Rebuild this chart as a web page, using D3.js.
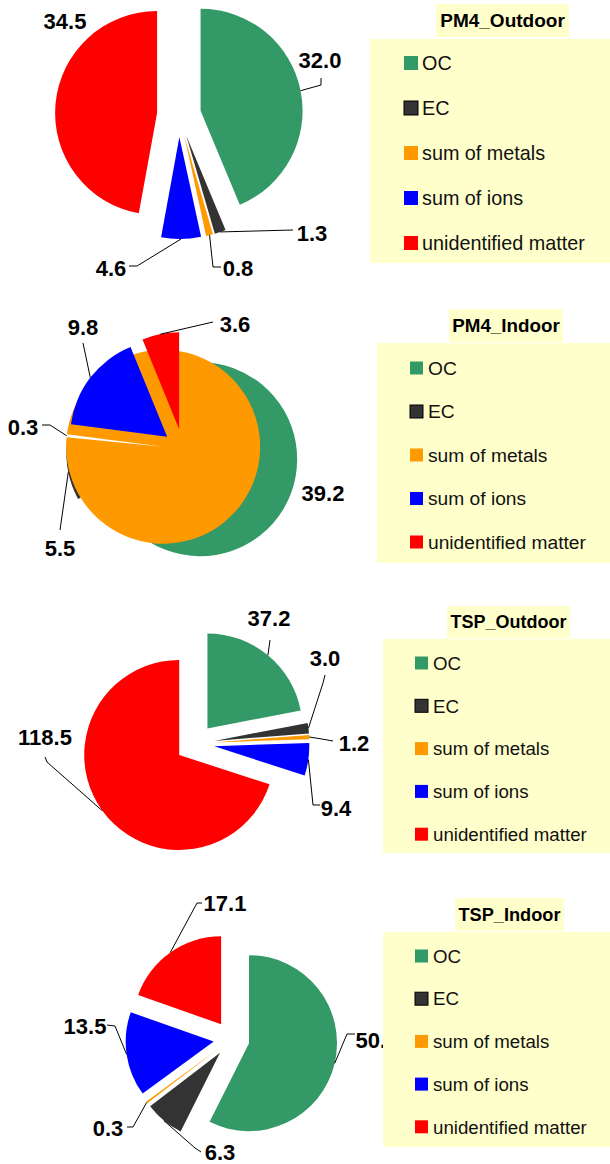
<!DOCTYPE html>
<html>
<head>
<meta charset="utf-8">
<script src="https://cdn.jsdelivr.net/npm/d3@7"></script>
<style>
  body { margin: 0; background: #fff; }
  svg { display: block; font-family: "Liberation Sans", Arial, sans-serif; }
</style>
</head>
<body>
<div id="chart"></div>
<script>
// categories and colours shared by all four pies
var categories = ["OC", "EC", "sum of metals", "sum of ions", "unidentified matter"];
var sliceColors = ["#339966", "#333333", "#FF9900", "#0000FF", "#FF0000"];

var chartTitles = ["PM4_Outdoor", "PM4_Indoor", "TSP_Outdoor", "TSP_Indoor"];

// values in the same order as categories
var pm4Outdoor = [32.0, 1.3, 0.8, 4.6, 34.5];
var pm4Indoor = [39.2, 5.5, 0.3, 9.8, 3.6];
var tspOutdoor = [37.2, 3.0, 1.2, 9.4, 118.5];
var tspIndoor = [50.1, 6.3, 0.3, 13.5, 17.1];

var seriesList = [pm4Outdoor, pm4Indoor, tspOutdoor, tspIndoor];

// layout of each panel (label spots + elbow points of leader lines)
var layouts = [
    {
        cx: 179, cy: 115, r: 102, explode: 22,
        labels: [
            { x: 320, y: 60, pts: [[321, 78], [321, 85]] },
            { x: 312, y: 233, pts: [[293, 230]] },
            { x: 238, y: 268, pts: [[221, 267], [213, 267]] },
            { x: 111, y: 268, pts: [[129, 266], [137, 266]] },
            { x: 65, y: 21, pts: null }
        ],
        title: { x: 436, y: 4, w: 133, h: 33, fs: 19 },
        legend: { x: 370, y: 39, h: 224, y0: 63, dy: 45, sqx: 404, sq: 14, tx: 422, fs: 19.8 }
    },
    {
        cx: 183, cy: 449, r: 97, explode: 20, flipped: 2,
        labels: [
            { x: 323, y: 493, pts: null },
            { x: 60, y: 548, pts: [[60, 530]] },
            { x: 23, y: 427, pts: [[42, 425], [50, 425]] },
            { x: 83, y: 327, pts: [[83, 343]] },
            { x: 235, y: 324, pts: [[213, 322]] }
        ],
        title: { x: 449, y: 309, w: 114, h: 33, fs: 18.8 },
        legend: { x: 377, y: 343, h: 220, y0: 368, dy: 43.5, sqx: 410, sq: 13, tx: 428, fs: 19.2 }
    },
    {
        cx: 195, cy: 743.5, r: 95, explode: 19.5,
        labels: [
            { x: 269, y: 618, pts: [[270, 640]] },
            { x: 325, y: 658, pts: [[325, 675], [323, 683]] },
            { x: 354, y: 743, pts: [[333, 741], [322, 739]] },
            { x: 336, y: 808, pts: [[320, 805], [313, 805]] },
            { x: 45, y: 737, pts: [[45, 757], [47, 762]] }
        ],
        title: { x: 447, y: 606, w: 123, h: 32, fs: 18 },
        legend: { x: 383, y: 639, h: 214, y0: 663, dy: 42.8, sqx: 415, sq: 13, tx: 433, fs: 18.7 }
    },
    {
        cx: 231.5, cy: 1039, r: 88, explode: 18,
        labels: [
            { x: 377, y: 1040, pts: [[355, 1034], [347, 1034]] },
            { x: 220, y: 1152, pts: [[201, 1152], [195, 1148]] },
            { x: 108, y: 1128, pts: [[127, 1127], [133, 1127]] },
            { x: 85, y: 1026, pts: [[107, 1025], [115, 1026]] },
            { x: 225, y: 903, pts: [[202, 903], [197, 903]] }
        ],
        title: { x: 455, y: 898, w: 109, h: 33, fs: 18.2 },
        legend: { x: 383, y: 932, h: 215, y0: 956, dy: 42.7, sqx: 415, sq: 13, tx: 433, fs: 18.7 }
    }
];

var W = 610, H = 1164;
var svg = d3.select("#chart").append("svg")
    .attr("width", W)
    .attr("height", H);

var pie = d3.pie().sort(null).startAngle(0).endAngle(2 * Math.PI);
var fmt = d3.format(".1f");

seriesList.forEach(function (values, k) {
    var L = layouts[k];
    var arcs = pie(values);
    var arc = d3.arc().innerRadius(0).outerRadius(L.r);
    var g = svg.append("g");

    function offset(d, dist) {
        var mid = (d.startAngle + d.endAngle) / 2;
        return [Math.sin(mid) * dist, -Math.cos(mid) * dist];
    }

    // exploded slices
    g.selectAll("path.slice")
        .data(arcs)
        .enter()
        .append("path")
        .attr("class", "slice")
        .attr("transform", function (d) {
            var o = offset(d, L.explode);
            return "translate(" + (L.cx + o[0]) + "," + (L.cy + o[1]) + ")";
        })
        .attr("d", function (d, i) {
            // the source render drew this tiny wedge with its arc flipped
            if (L.flipped === i) {
                return arc({ startAngle: d.endAngle, endAngle: d.startAngle + 2 * Math.PI });
            }
            return arc(d);
        })
        .attr("fill", function (d, i) { return sliceColors[i]; });

    // leader lines
    var line = d3.line();
    arcs.forEach(function (d, i) {
        var lab = L.labels[i];
        if (!lab.pts) return;
        var o = offset(d, L.explode);
        var e = offset(d, L.r);
        var pts = lab.pts.concat([[L.cx + o[0] + e[0], L.cy + o[1] + e[1]]]);
        g.append("path")
            .attr("d", line(pts))
            .attr("fill", "none")
            .attr("stroke", "#000")
            .attr("stroke-width", 1);
    });

    // value labels
    g.selectAll("text.val")
        .data(arcs)
        .enter()
        .append("text")
        .attr("class", "val")
        .attr("x", function (d, i) { return L.labels[i].x; })
        .attr("y", function (d, i) { return L.labels[i].y; })
        .attr("dy", "0.36em")
        .attr("text-anchor", "middle")
        .attr("font-size", 22)
        .attr("font-weight", "bold")
        .attr("fill", "#000")
        .text(function (d) { return fmt(d.data); });

    // title box
    var t = L.title;
    g.append("rect")
        .attr("x", t.x).attr("y", t.y)
        .attr("width", t.w).attr("height", t.h)
        .attr("fill", "#FFFFCC");
    g.append("text")
        .attr("x", t.x + t.w / 2)
        .attr("y", t.y + t.h / 2)
        .attr("dy", "0.36em")
        .attr("text-anchor", "middle")
        .attr("font-size", t.fs)
        .attr("font-weight", "bold")
        .text(chartTitles[k]);

    // legend box
    var lg = L.legend;
    g.append("rect")
        .attr("x", lg.x).attr("y", lg.y)
        .attr("width", W - lg.x).attr("height", lg.h)
        .attr("fill", "#FFFFCC");

    var items = g.selectAll("g.item")
        .data(categories)
        .enter()
        .append("g")
        .attr("class", "item")
        .attr("transform", function (d, i) { return "translate(0," + (lg.y0 + i * lg.dy) + ")"; });

    items.append("rect")
        .attr("x", lg.sqx)
        .attr("y", -lg.sq / 2)
        .attr("width", lg.sq)
        .attr("height", lg.sq)
        .attr("fill", function (d, i) { return sliceColors[i]; })
        .attr("stroke", function (d, i) { return i === 1 ? "#000" : "none"; })
        .attr("stroke-width", 1);

    items.append("text")
        .attr("x", lg.tx)
        .attr("dy", "0.36em")
        .attr("font-size", lg.fs)
        .attr("fill", "#111")
        .text(function (d) { return d; });
});
</script>
</body>
</html>
